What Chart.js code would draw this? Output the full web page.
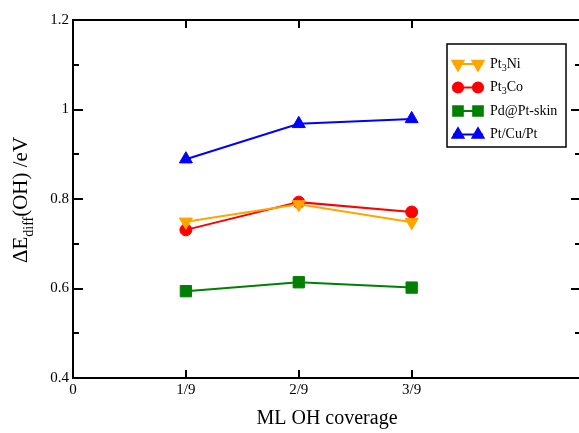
<!DOCTYPE html>
<html>
<head>
<meta charset="utf-8">
<script src="https://cdn.jsdelivr.net/npm/chart.js@4.4.1/dist/chart.umd.min.js"></script>
<style>
html,body{margin:0;padding:0;background:#fff;overflow:hidden;}
#wrap{width:590px;height:433px;}
</style>
</head>
<body>
<div id="wrap"><canvas id="c" width="590" height="433"></canvas></div>
<script>
// ---- data ----
const coverage = [1/9, 2/9, 3/9];
const pt3ni = [0.749, 0.788, 0.748];
const pt3co = [0.731, 0.793, 0.771];
const pdPtSkin = [0.594, 0.614, 0.602];
const ptCuPt = [0.889, 0.968, 0.979];
const xTickValues = [0, 1/9, 2/9, 3/9];
const xTickLabels = ['0', '1/9', '2/9', '3/9'];
const yMin = 0.4, yMax = 1.2, yStep = 0.1;

const seriesNames = [
  {main:'Pt', sub:'3', rest:'Ni'},
  {main:'Pt', sub:'3', rest:'Co'},
  {main:'Pd@Pt-skin', sub:'', rest:''},
  {main:'Pt/Cu/Pt', sub:'', rest:''}
];

const FONT = "'Liberation Serif', 'Times New Roman', serif";
const toPts = arr => arr.map((v, i) => ({x: coverage[i], y: v}));

function ds(label, values, color, style, rot, r) {
  return {
    label, data: toPts(values), borderColor: color, backgroundColor: color,
    borderWidth: 2, pointStyle: style, rotation: rot, pointRadius: r,
    pointBorderWidth: 1, pointBorderColor: color, pointBackgroundColor: color, tension: 0
  };
}

const framePlugin = {
  id: 'frame',
  afterDraw(chart) {
    const {ctx, chartArea: a, scales} = chart;
    ctx.save();
    ctx.strokeStyle = '#000';
    ctx.lineWidth = 2;
    ctx.strokeRect(a.left, a.top, a.right - a.left, a.bottom - a.top);
    // y inward ticks
    scales.y.ticks.forEach(t => {
      const py = Math.round(scales.y.getPixelForValue(t.value));
      const major = Math.round(t.value * 10) % 2 === 0;
      const len = major ? 10 : 6;
      if (py <= a.top + 1 || py >= a.bottom - 1) return;
      ctx.beginPath();
      ctx.moveTo(a.left, py); ctx.lineTo(a.left + len, py);
      ctx.moveTo(a.right, py); ctx.lineTo(a.right - len, py);
      ctx.stroke();
    });
    // x inward ticks
    xTickValues.forEach(v => {
      if (v === 0) return;
      const px = Math.round(scales.x.getPixelForValue(v));
      ctx.beginPath();
      ctx.moveTo(px, a.bottom); ctx.lineTo(px, a.bottom - 8);
      ctx.moveTo(px, a.top); ctx.lineTo(px, a.top + 8);
      ctx.stroke();
    });
    // x title
    ctx.fillStyle = '#000';
    ctx.font = '20px ' + FONT;
    ctx.textAlign = 'center';
    ctx.textBaseline = 'alphabetic';
    ctx.fillText('ML OH coverage', (a.left + a.right) / 2, 424);
    // y title with subscript
    ctx.save();
    ctx.translate(27, 200);
    ctx.rotate(-Math.PI / 2);
    const big = '21px ' + FONT, small = '14px ' + FONT;
    ctx.textAlign = 'left';
    ctx.font = big; const w1 = ctx.measureText('\u0394E').width;
    ctx.font = small; const w2 = ctx.measureText('diff').width;
    ctx.font = big; const w3 = ctx.measureText('(OH) /eV').width;
    let x0 = -(w1 + w2 + w3) / 2;
    ctx.font = big; ctx.fillText('\u0394E', x0, 0); x0 += w1;
    ctx.font = small; ctx.fillText('diff', x0, 6); x0 += w2;
    ctx.font = big; ctx.fillText('(OH) /eV', x0, 0);
    ctx.restore();
    // legend
    const lx = 447, ly = 44, lw = 119, lh = 103;
    ctx.lineWidth = 1.5;
    ctx.strokeStyle = '#000';
    ctx.fillStyle = '#fff';
    ctx.fillRect(lx, ly, lw, lh);
    ctx.strokeRect(lx, ly, lw, lh);
    chart.data.datasets.forEach((d, i) => {
      const y = 64 + i * 23.5;
      ctx.strokeStyle = d.borderColor;
      ctx.lineWidth = 2;
      ctx.beginPath(); ctx.moveTo(453, y); ctx.lineTo(483, y); ctx.stroke();
      [458, 478].forEach(mx => {
        ctx.fillStyle = d.backgroundColor;
        Chart.helpers.drawPoint(ctx, {pointStyle: d.pointStyle, rotation: d.rotation,
          radius: d.pointRadius * 0.85, borderWidth: 1}, mx, y);
      });
      ctx.fillStyle = '#000';
      ctx.textBaseline = 'middle';
      ctx.textAlign = 'left';
      const n = seriesNames[i];
      let tx = 490;
      ctx.font = '14px ' + FONT;
      ctx.fillText(n.main, tx, y);
      tx += ctx.measureText(n.main).width;
      if (n.sub) {
        ctx.font = '10px ' + FONT;
        ctx.fillText(n.sub, tx, y + 4);
        tx += ctx.measureText(n.sub).width;
        ctx.font = '14px ' + FONT;
        ctx.fillText(n.rest, tx, y);
      }
    });
    ctx.restore();
  }
};

new Chart(document.getElementById('c'), {
  type: 'line',
  data: {
    datasets: [
      ds('Pt3Ni', pt3ni, '#FFA500', 'triangle', 180, 7.5),
      ds('Pt3Co', pt3co, '#FF0000', 'circle', 0, 6),
      ds('Pd@Pt-skin', pdPtSkin, '#008000', 'rect', 0, 8),
      ds('Pt/Cu/Pt', ptCuPt, '#0000FF', 'triangle', 0, 7.5)
    ]
  },
  options: {
    responsive: false,
    animation: false,
    layout: {padding: {left: 0, top: 20, right: 5, bottom: 0}},
    plugins: {legend: {display: false}, tooltip: {enabled: false}},
    scales: {
      x: {
        type: 'linear', min: 0, max: 0.5,
        afterBuildTicks: s => { s.ticks = xTickValues.map(v => ({value: v})); },
        afterFit: s => { s.height = 55; },
        grid: {drawOnChartArea: false, drawTicks: false},
        border: {display: false},
        ticks: {
          autoSkip: false, maxRotation: 0, padding: 3, color: '#000',
          font: {family: FONT, size: 15},
          callback: (v, i) => xTickLabels[i]
        }
      },
      y: {
        min: yMin, max: yMax,
        afterFit: s => { s.width = 73; },
        grid: {drawOnChartArea: false, drawTicks: false},
        border: {display: false},
        ticks: {
          stepSize: yStep, padding: 4, color: '#000',
          font: {family: FONT, size: 15},
          callback: v => {
            const k = Math.round(v * 10);
            if (k % 2 !== 0) return '';
            return k === 10 ? '1' : (k / 10).toFixed(1);
          }
        }
      }
    }
  },
  plugins: [framePlugin]
});
</script>
</body>
</html>
